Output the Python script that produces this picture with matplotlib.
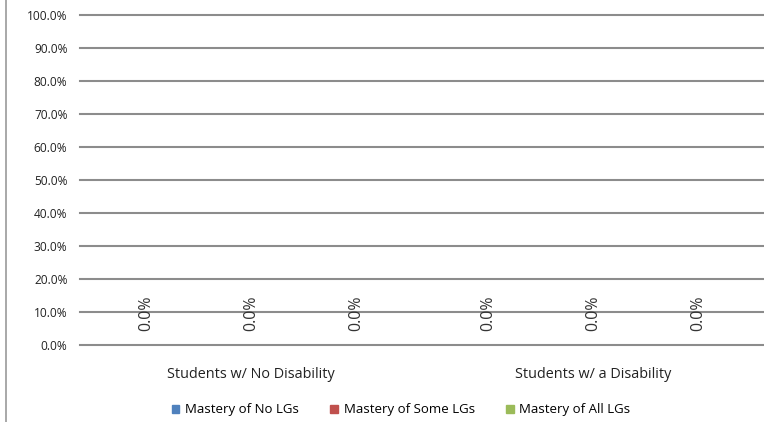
import matplotlib
matplotlib.use("Agg")
import matplotlib.pyplot as plt
from matplotlib.lines import Line2D
import numpy as np

categories = ["Students w/ No Disability", "Students w/ a Disability"]
series_names = ["Mastery of No LGs", "Mastery of Some LGs", "Mastery of All LGs"]
no_lgs = [0.0, 0.0]
some_lgs = [0.0, 0.0]
all_lgs = [0.0, 0.0]
series_values = [no_lgs, some_lgs, all_lgs]
colors = ["#4F81BD", "#C0504D", "#9BBB59"]
yticks = [0, 10, 20, 30, 40, 50, 60, 70, 80, 90, 100]

plt.rcParams['font.family'] = ['Open Sans', 'DejaVu Sans']

W, H = 764, 422
fig = plt.figure(figsize=(W / 100, H / 100), dpi=100)
ax = fig.add_axes([80 / W, 1 - 345 / H, (764 - 80) / W, (345 - 15) / H])

x = np.arange(len(categories))
bw = 0.307

for t in yticks:
    ax.axhline(t, color="#8c8c8c", linewidth=1.5, clip_on=False, zorder=0)

for i, (name, vals, c) in enumerate(zip(series_names, series_values, colors)):
    pos = x + (i - 1) * bw
    ax.bar(pos, vals, width=bw, color=c, label=name)
    for p, v in zip(pos, vals):
        ax.annotate(f"{v:.1f}%", (p, v), xytext=(0, 10), textcoords="offset points",
                    rotation=90, ha="center", va="bottom", fontsize=11.5, color="#333333")

ax.set_xlim(-0.5, 1.5)
ax.set_ylim(0, 100)
ax.set_yticks(yticks)
ax.set_yticklabels([f"{t:.1f}%" for t in yticks], fontsize=8.6, color="#222222")
ax.set_xticks(x)
ax.set_xticklabels(categories, fontsize=10.4, color="#222222")
ax.tick_params(axis="y", length=0, pad=9)
ax.tick_params(axis="x", length=0, pad=16)
for s in ax.spines.values():
    s.set_visible(False)

# left border line of spreadsheet area
fig.add_artist(Line2D([6 / W, 6 / W], [0, 1], color="#9a9a9a", linewidth=1.2))

handles = [plt.Rectangle((0, 0), 1, 1, color=c) for c in colors]
fig.legend(handles, series_names, loc="center", bbox_to_anchor=(0.525, 1 - 410 / H),
           ncol=3, frameon=False, fontsize=9.5, handlelength=0.6, handleheight=0.6,
           handletextpad=0.4, columnspacing=2.4)

fig.savefig("out.png", dpi=100)
